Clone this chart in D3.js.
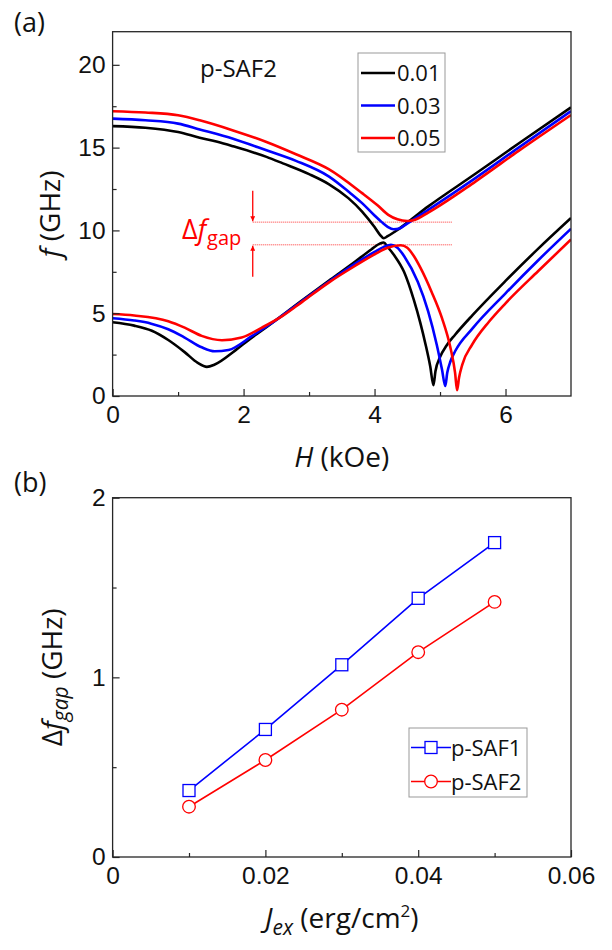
<!DOCTYPE html>
<html>
<head>
<meta charset="utf-8">
<script src="https://cdn.jsdelivr.net/npm/d3@7"></script>
<style>
  body { margin: 0; background: #fff; }
  svg { font-family: "Open Sans", "Noto Sans", sans-serif; }
</style>
</head>
<body>
<div id="chart"></div>
<script>
// ---- panel (a): f vs H as [H (kOe), f (GHz)]
const jexLabels = ["0.01", "0.03", "0.05"];
const colours = ["#000000", "#0000ff", "#ff0000"];

const upper001 = [[0,16.3],[0.5,16.2],[1.0,15.94],[1.33,15.6],[1.6,15.35],[1.84,15.08],[2.35,14.44],[2.6,14.05],[3.0,13.4],[3.3,12.8],[3.6,11.95],[3.81,11.14],[4.0,10.2],[4.08,9.75],[4.14,9.53],[4.2,9.65],[4.32,9.95],[4.82,11.45],[5.54,13.42],[6.2,15.25],[7.0,17.43]];
const upper003 = [[0,16.75],[0.5,16.65],[1.0,16.45],[1.33,16.1],[1.84,15.54],[2.35,14.84],[2.8,14.2],[3.3,13.26],[3.6,12.35],[3.81,11.65],[4.0,10.9],[4.11,10.5],[4.2,10.22],[4.29,10.07],[4.38,10.12],[4.47,10.34],[4.82,11.24],[5.54,13.16],[6.2,15.0],[7.0,17.2]];
const upper005 = [[0,17.2],[0.5,17.12],[1.0,16.95],[1.33,16.65],[1.84,16.04],[2.35,15.34],[2.8,14.6],[3.3,13.7],[3.81,12.25],[4.05,11.5],[4.21,10.94],[4.35,10.67],[4.5,10.57],[4.62,10.65],[4.82,11.08],[5.54,12.95],[6.2,14.8],[7.0,16.97]];

const lower001 = [[0,4.45],[0.33,4.25],[0.6,3.94],[0.85,3.38],[1.1,2.65],[1.3,2.0],[1.44,1.76],[1.56,1.9],[1.87,2.74],[2.1,3.45],[2.38,4.25],[2.9,5.8],[3.3,6.95],[3.7,8.1],[3.95,8.85],[4.08,9.2],[4.14,9.27],[4.2,9.0],[4.3,8.5],[4.45,7.5],[4.6,5.8],[4.7,4.4],[4.78,3.1],[4.85,1.8],[4.9,0.65],[4.93,1.5],[5.0,2.35],[5.1,3.05],[5.23,3.7],[5.5,4.9],[6.0,6.95],[6.5,8.9],[7.0,10.75]];
const lower003 = [[0,4.7],[0.33,4.56],[0.59,4.37],[0.85,4.03],[1.1,3.53],[1.36,2.94],[1.56,2.7],[1.77,2.78],[2.13,3.63],[2.38,4.27],[2.9,5.75],[3.3,6.9],[3.7,7.98],[4.0,8.7],[4.15,9.02],[4.25,9.13],[4.35,8.95],[4.46,8.4],[4.66,6.9],[4.82,5.1],[4.95,3.1],[5.03,1.6],[5.08,0.6],[5.11,1.4],[5.16,2.1],[5.23,2.7],[5.5,4.1],[6.0,6.2],[6.5,8.2],[7.0,10.1]];
const lower005 = [[0,4.95],[0.33,4.86],[0.85,4.52],[1.1,4.13],[1.36,3.63],[1.67,3.37],[1.97,3.53],[2.28,4.13],[2.59,4.82],[2.9,5.7],[3.3,6.85],[3.7,7.85],[4.0,8.55],[4.2,8.95],[4.4,9.1],[4.5,8.95],[4.6,8.45],[4.7,7.75],[4.87,6.3],[5.03,4.7],[5.16,2.9],[5.23,1.4],[5.26,0.35],[5.29,1.1],[5.34,1.9],[5.49,3.1],[5.75,4.5],[6.0,5.6],[6.5,7.55],[7.0,9.45]];

const upperCurves = [upper001, upper003, upper005];
const lowerCurves = [lower001, lower003, lower005];

// gap annotation (kOe / GHz)
const gapLevels = [10.5, 9.13];
const gapSpan = [2.14, 5.18];

const xTicksA = [0, 2, 4, 6];
const yTicksA = [0, 5, 10, 15, 20];

// ---- panel (b): gap vs Jex
const jex = [0.01, 0.02, 0.03, 0.04, 0.05];
const gapSAF1 = [0.37, 0.71, 1.07, 1.44, 1.75];
const gapSAF2 = [0.28, 0.54, 0.82, 1.14, 1.42];
const xTicksB = [0, 0.02, 0.04, 0.06];
const yTicksB = [0, 1, 2];

const W = 612, H = 950;
const left = 112.6, right = 571;
const svg = d3.select("#chart").append("svg").attr("width", W).attr("height", H);

const frameCol = "#262626";
const textCol = "#111";

function frame(g, x, y, xMajor, xMinor, yMajor, yMinor, xfmt) {
  const [y0, y1] = y.range();
  g.append("g")
    .attr("transform", `translate(0,${y0})`)
    .call(d3.axisBottom(x).tickValues(xMinor).tickSize(-4).tickFormat(""))
    .call(a => a.select(".domain").remove());
  g.append("g")
    .attr("transform", `translate(0,${y0})`)
    .call(d3.axisBottom(x).tickValues(xMajor).tickSize(-7).tickPadding(10).tickFormat(xfmt))
    .call(a => a.select(".domain").remove());
  g.append("g")
    .attr("transform", `translate(${left},0)`)
    .call(d3.axisLeft(y).tickValues(yMinor).tickSize(-4).tickFormat(""))
    .call(a => a.select(".domain").remove());
  g.append("g")
    .attr("transform", `translate(${left},0)`)
    .call(d3.axisLeft(y).tickValues(yMajor).tickSize(-7).tickPadding(7).tickFormat(d3.format("d")))
    .call(a => a.select(".domain").remove());
  g.selectAll(".tick line").attr("stroke", frameCol).attr("stroke-width", 1.2);
  g.selectAll(".tick text").attr("font-size", 24.5).attr("fill", textCol).attr("font-family", null);
  g.append("rect")
    .attr("x", left).attr("y", y1)
    .attr("width", right - left).attr("height", y0 - y1)
    .attr("fill", "none").attr("stroke", frameCol).attr("stroke-width", 1.3);
}

// ================= panel (a)
const xa = d3.scaleLinear().domain([0, 7]).range([left, right]);
const ya = d3.scaleLinear().domain([0, 22]).range([396, 31.7]);
const ga = svg.append("g");

ga.append("clipPath").attr("id", "clipA").append("rect")
  .attr("x", left).attr("y", 31.7).attr("width", right - left).attr("height", 396 - 31.7);

const lineA = d3.line().x(d => xa(d[0])).y(d => ya(d[1])).curve(d3.curveMonotoneX);
const curves = ga.append("g").attr("clip-path", "url(#clipA)");

// dotted gap lines
curves.selectAll(".gapline").data(gapLevels).join("line")
  .attr("x1", xa(gapSpan[0])).attr("x2", xa(gapSpan[1]))
  .attr("y1", d => ya(d)).attr("y2", d => ya(d))
  .attr("stroke", "#ff3030").attr("stroke-width", 1).attr("stroke-dasharray", "1,1");

colours.forEach((c, i) => {
  [upperCurves[i], lowerCurves[i]].forEach(pts => {
    curves.append("path").datum(pts)
      .attr("d", lineA)
      .attr("fill", "none")
      .attr("stroke", c)
      .attr("stroke-width", 2.6)
      .attr("stroke-linejoin", "round");
  });
});

// arrows
const defs = svg.append("defs");
defs.append("marker").attr("id", "arrowRed")
  .attr("viewBox", "0 0 10 10").attr("refX", 10).attr("refY", 5)
  .attr("markerWidth", 9).attr("markerHeight", 5).attr("orient", "auto")
  .attr("markerUnits", "userSpaceOnUse")
  .append("path").attr("d", "M0,0 L10,5 L0,10 Z").attr("fill", "#ff0000");

const ax = xa(gapSpan[0]);
ga.append("line").attr("x1", ax).attr("x2", ax)
  .attr("y1", ya(12.4)).attr("y2", ya(gapLevels[0]) - 1)
  .attr("stroke", "#ff0000").attr("stroke-width", 1.3).attr("marker-end", "url(#arrowRed)");
ga.append("line").attr("x1", ax).attr("x2", ax)
  .attr("y1", ya(7.2)).attr("y2", ya(gapLevels[1]) + 1)
  .attr("stroke", "#ff0000").attr("stroke-width", 1.3).attr("marker-end", "url(#arrowRed)");

const gapLabel = ga.append("text").attr("x", xa(1.06)).attr("y", ya(9.5))
  .attr("fill", "#ff0000").attr("font-size", 27);
gapLabel.append("tspan").text("Δ");
gapLabel.append("tspan").attr("font-style", "italic").text("f");
gapLabel.append("tspan").attr("font-size", 20).attr("dy", 6).attr("dx", 1).text("gap");

ga.append("text").attr("x", 200).attr("y", 77).attr("font-size", 24).attr("fill", textCol).text("p-SAF2");

// legend (a)
const legA = ga.append("g");
legA.append("rect").attr("x", 358).attr("y", 53).attr("width", 87).attr("height", 99)
  .attr("fill", "#fff").attr("stroke", "#999").attr("stroke-width", 1);
jexLabels.forEach((t, i) => {
  const yy = 73 + i * 32.5;
  legA.append("line").attr("x1", 361).attr("x2", 395).attr("y1", yy).attr("y2", yy)
    .attr("stroke", colours[i]).attr("stroke-width", 2.6);
  legA.append("text").attr("x", 397).attr("y", yy + 8).attr("font-size", 22).attr("fill", textCol).text(t);
});

frame(ga, xa, ya, xTicksA, [1, 3, 5], yTicksA, [2.5, 7.5, 12.5, 17.5], d3.format("d"));

ga.append("text").attr("x", 14).attr("y", 32).attr("font-size", 27).attr("fill", textCol).text("(a)");

const yLabA = ga.append("text").attr("transform", `translate(60,${ya(11)}) rotate(-90)`)
  .attr("text-anchor", "middle").attr("font-size", 28).attr("fill", textCol);
yLabA.append("tspan").attr("font-style", "italic").text("f");
yLabA.append("tspan").text(" (GHz)");

const xLabA = ga.append("text").attr("x", (left + right) / 2).attr("y", 467)
  .attr("text-anchor", "middle").attr("font-size", 28).attr("fill", textCol);
xLabA.append("tspan").attr("font-style", "italic").text("H");
xLabA.append("tspan").text(" (kOe)");

// ================= panel (b)
const xb = d3.scaleLinear().domain([0, 0.06]).range([left, right]);
const yb = d3.scaleLinear().domain([0, 2]).range([857, 497.7]);
const gb = svg.append("g");

frame(gb, xb, yb, xTicksB, [0.01, 0.03, 0.05], yTicksB, [0.5, 1.5],
  d => d === 0 ? "0" : d3.format(".2f")(d));

const series = [
  { name: "p-SAF1", values: gapSAF1, colour: "#0000ff", shape: "square" },
  { name: "p-SAF2", values: gapSAF2, colour: "#ff0000", shape: "circle" },
];
const lineB = d3.line().x(d => xb(d[0])).y(d => yb(d[1]));

function marker(g, shape, cx, cy, col) {
  if (shape === "square") {
    g.append("rect").attr("x", cx - 6).attr("y", cy - 6).attr("width", 12).attr("height", 12)
      .attr("fill", "#fff").attr("stroke", col).attr("stroke-width", 1.3);
  } else {
    g.append("circle").attr("cx", cx).attr("cy", cy).attr("r", 6.3)
      .attr("fill", "#fff").attr("stroke", col).attr("stroke-width", 1.3);
  }
}

series.forEach(s => {
  const pts = jex.map((j, i) => [j, s.values[i]]);
  gb.append("path").datum(pts).attr("d", lineB)
    .attr("fill", "none").attr("stroke", s.colour).attr("stroke-width", 1.6);
  pts.forEach(p => marker(gb, s.shape, xb(p[0]), yb(p[1]), s.colour));
});

// legend (b)
const legB = gb.append("g");
legB.append("rect").attr("x", 409).attr("y", 728).attr("width", 118).attr("height", 69)
  .attr("fill", "#fff").attr("stroke", "#999").attr("stroke-width", 1);
series.forEach((s, i) => {
  const yy = 747.5 + i * 34;
  legB.append("line").attr("x1", 411).attr("x2", 451).attr("y1", yy).attr("y2", yy)
    .attr("stroke", s.colour).attr("stroke-width", 1.6);
  marker(legB, s.shape, 431, yy, s.colour);
  legB.append("text").attr("x", 451).attr("y", yy + 8).attr("font-size", 22).attr("fill", textCol).text(s.name);
});

gb.append("text").attr("x", 14).attr("y", 492).attr("font-size", 27).attr("fill", textCol).text("(b)");

const yLabB = gb.append("text").attr("transform", `translate(62,${yb(1)}) rotate(-90)`)
  .attr("text-anchor", "middle").attr("font-size", 28).attr("fill", textCol);
yLabB.append("tspan").text("Δ");
yLabB.append("tspan").attr("font-style", "italic").text("f");
yLabB.append("tspan").attr("font-style", "italic").attr("font-size", 21).attr("dy", 6).text("gap");
yLabB.append("tspan").attr("dy", -6).text(" (GHz)");

const xLabB = gb.append("text").attr("x", (left + right) / 2).attr("y", 928)
  .attr("text-anchor", "middle").attr("font-size", 28).attr("fill", textCol);
xLabB.append("tspan").attr("font-style", "italic").text("J");
xLabB.append("tspan").attr("font-style", "italic").attr("font-size", 21).attr("dy", 7).text("ex");
xLabB.append("tspan").attr("dy", -7).text(" (erg/cm");
xLabB.append("tspan").attr("font-size", 17).attr("dy", -11).text("2");
xLabB.append("tspan").attr("dy", 11).text(")");
</script>
</body>
</html>
